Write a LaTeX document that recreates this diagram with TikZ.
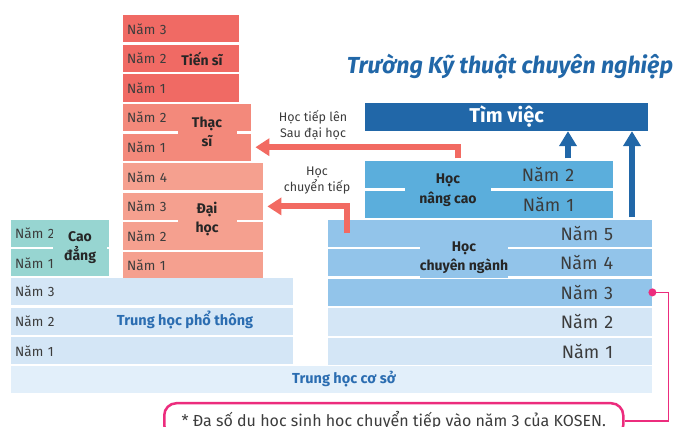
\documentclass[tikz,border=0pt]{standalone}
\usepackage{fontspec}
\setmainfont{Fira Sans}
\usetikzlibrary{arrows.meta, positioning}
\definecolor{tsred}{HTML}{F06A64}
\definecolor{thred}{HTML}{F3897B}
\definecolor{dhred}{HTML}{F5A08F}
\definecolor{cdteal}{HTML}{97D5D1}
\definecolor{palblue}{HTML}{D4E6F6}
\definecolor{thcsblue}{HTML}{E2EFFA}
\definecolor{cnblue}{HTML}{92C4EA}
\definecolor{ncblue}{HTML}{5BAEDC}
\definecolor{tvblue}{HTML}{2167A8}
\definecolor{lblblue}{HTML}{2B6DB1}
\definecolor{arrsalmon}{HTML}{F26A62}
\definecolor{notepink}{HTML}{EC2C7D}
\definecolor{txtgray}{HTML}{3C3C3C}
\tikzset{
  yr/.style = {rectangle, anchor=north west, minimum height=27.2pt, inner xsep=4pt, inner ysep=0pt, align=left, text=txtgray, font=\fontsize{13.5}{16}\selectfont},
  tsrow/.style = {yr, fill=tsred, text width=108pt},
  throw/.style = {yr, fill=thred, text width=120pt},
  dhrow/.style = {yr, fill=dhred, text width=132pt},
  cdrow/.style = {yr, fill=cdteal, text width=90pt},
  ptrow/.style = {yr, fill=palblue, text width=274pt},
  kyr/.style = {yr, align=right, inner xsep=39pt, font=\fontsize{18}{20}\selectfont},
  ncrow/.style = {kyr, fill=ncblue, text width=170pt},
  cnrow/.style = {kyr, fill=cnblue, text width=246pt},
  klrow/.style = {kyr, fill=palblue, text width=246pt},
  grp/.style = {align=center, inner xsep=0pt, inner ysep=1pt, text=black!85, font=\bfseries\fontsize{14}{19.5}\selectfont},
  bluelbl/.style = {text=lblblue, font=\bfseries\fontsize{14.5}{17}\selectfont},
  arrlbl/.style = {align=center, text=txtgray, font=\fontsize{12.5}{16}\selectfont},
  salarrow/.style = {draw=arrsalmon, line width=6pt, -{Triangle[width=17pt, length=14pt]}},
  bluarrow/.style = {draw=tvblue, line width=6pt, -{Triangle[width=17pt, length=15pt]}}
}
\begin{document}
\begin{tikzpicture}[x=1pt, y=-1pt]
  \useasboundingbox (0,0) rectangle (673,427);

  % Tien si / Thac si / Dai hoc column
  \node (ts3) [tsrow] at (123,15) {Năm 3};
  \node (ts2) [tsrow, below=2pt of ts3.south west, anchor=north west] {Năm 2};
  \node (ts1) [tsrow, below=2pt of ts2.south west, anchor=north west] {Năm 1};
  \node (ths2) [throw, below=2pt of ts1.south west, anchor=north west] {Năm 2};
  \node (ths1) [throw, below=2pt of ths2.south west, anchor=north west] {Năm 1};
  \node (dh4) [dhrow, below=2pt of ths1.south west, anchor=north west] {Năm 4};
  \node (dh3) [dhrow, below=2pt of dh4.south west, anchor=north west] {Năm 3};
  \node (dh2) [dhrow, below=2pt of dh3.south west, anchor=north west] {Năm 2};
  \node (dh1) [dhrow, below=2pt of dh2.south west, anchor=north west] {Năm 1};

  % Cao dang
  \node (cd2) [cdrow] at (11,219.4) {Năm 2};
  \node (cd1) [cdrow, below=2pt of cd2.south west, anchor=north west] {Năm 1};

  % Trung hoc pho thong
  \node (pt3) [ptrow] at (11,277.8) {Năm 3};
  \node (pt2) [ptrow, below=2pt of pt3.south west, anchor=north west] {Năm 2};
  \node (pt1) [ptrow, below=2pt of pt2.south west, anchor=north west] {Năm 1};

  % KOSEN column
  \node (tv) [rectangle, anchor=north west, fill=tvblue, minimum width=283pt, minimum height=27.4pt, text=white, font=\bfseries\fontsize{20}{22}\selectfont] at (365,102.6) {Tìm việc};
  \node (nc2) [ncrow] at (365,161) {Năm 2};
  \node (nc1) [ncrow, below=2pt of nc2.south west, anchor=north west] {Năm 1};
  \node (cn5) [cnrow] at (328,219.4) {Năm 5};
  \node (cn4) [cnrow, below=2pt of cn5.south west, anchor=north west] {Năm 4};
  \node (kn3) [cnrow, below=2pt of cn4.south west, anchor=north west] {Năm 3};
  \node (kn2) [klrow, below=2pt of kn3.south west, anchor=north west] {Năm 2};
  \node (kn1) [klrow, below=2pt of kn2.south west, anchor=north west] {Năm 1};

  % Trung hoc co so
  \node (thcs) [yr, fill=thcsblue, text width=633pt] at (11,365.4) {};
  \node (thcslbl) [bluelbl] at (344,379) {Trung học cơ sở};
  \node (ptlbl) [bluelbl] at (185,320.4) {Trung học phổ thông};

  % group labels
  \node (tslbl) [grp] at (202,58.6) {Tiến sĩ};
  \node (thlbl) [grp, fill=thred, minimum width=59pt] at (207,131.6) {Thạc\\sĩ};
  \node (dhlbl) [grp, fill=dhred, minimum width=59pt] at (207,218.8) {Đại\\học};
  \node (cdlbl) [grp, fill=cdteal, minimum width=54pt] at (80,247.6) {Cao\\đẳng};
  \node (nclbl) [grp, fill=ncblue, minimum width=86pt] at (448,190) {Học\\nâng cao};
  \node (cnlbl) [grp, fill=cnblue, minimum width=65pt, minimum height=42pt] at (464,257.5) {Học\\chuyên ngành};

  \node (title) [text=tvblue, font=\bfseries\itshape\fontsize{23.2}{25}\selectfont] at (510,67) {Trường Kỹ thuật chuyên nghiệp};

  % arrows
  \draw[salarrow] ([xshift=93pt, yshift=2.5pt]nc2.north west) |- ([xshift=4pt]ths1.east);
  \draw[salarrow] ([xshift=19pt, yshift=-14pt]cn5.north west) |- ([xshift=4pt]dh3.east);
  \draw[bluarrow] ([xshift=203pt, yshift=2.5pt]nc2.north west) -- ([xshift=203pt]tv.south west);
  \draw[bluarrow] ([xshift=304pt, yshift=2pt]cn5.north west) -- ([xshift=267pt]tv.south west);
  \node (tiepsdh) [arrlbl] at (313,125) {Học tiếp lên\\Sau đại học};
  \node (chuyentiep) [arrlbl] at (317,180.5) {Học\\chuyển tiếp};

  % note
  \node (note) [draw=notepink, line width=2.5pt, rounded corners=12pt, fill=white, anchor=north west, minimum width=459pt, minimum height=34pt, text=txtgray, font=\fontsize{16}{18}\selectfont] at (163,402) {* Đa số du học sinh học chuyển tiếp vào năm 3 của KOSEN.};
  \fill[notepink] (kn3.east) circle (4pt);
  \draw[notepink, line width=1.6pt] (kn3.east) -- ++(16,0) |- ([yshift=-1pt]note.east);
\end{tikzpicture}
\end{document}
